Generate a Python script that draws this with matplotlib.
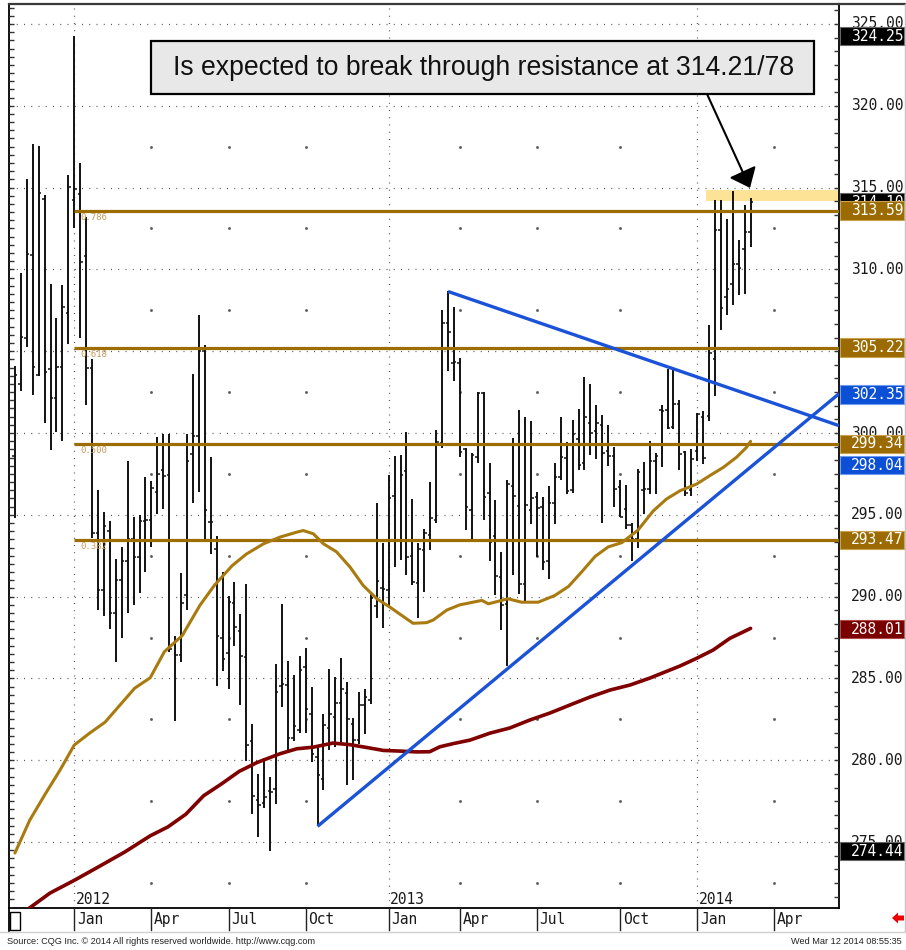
import matplotlib

matplotlib.use("Agg")
import matplotlib.pyplot as plt
import numpy as np
import pandas as pd
from matplotlib.collections import LineCollection
from matplotlib.lines import Line2D
from matplotlib.patches import Polygon, Rectangle

# weekly OHLC bars, first bar = week of 2011-10-24
FIRST_WEEK = "2011-10-24"

opens = [298.62, 302.98, 305.79, 310.88, 303.55, 314.3, 303.91, 302.16, 304.04, 307.34, 314.24, 314.6, 310.84, 303.95,
         293.88, 290.4, 294.0, 289.0, 291.0, 292.2, 293.5, 292.4, 294.6,
         294.66, 296.37, 297.74, 297.42, 287.08, 286.46, 290.11, 298.73, 299.82, 305.00, 294.55, 292.93, 287.45, 286.57,
         289.59, 287.89, 286.31, 281.17, 277.57, 277.39, 278.11, 278.22, 284.52, 284.6, 281.33, 281.83, 285.70,
         282.84, 280.2, 278.87, 282.0, 282.64, 283.48, 284.14, 282.24, 281.26, 283.4, 283.67, 289.43, 290.51, 290.41,
         296.12, 293.43, 297.65, 292.49, 290.86, 292.86, 293.78, 294.69, 299.39, 306.7, 304.29,
         304.28, 299.0, 295.29, 298.52, 302.44, 296.31, 293.69, 291.20, 289.56, 296.76, 295.53, 290.75, 295.29, 296.10,
         295.5, 292.18, 295.7, 297.3, 298.5, 296.5, 299.62, 298.15, 300.64, 300.15,
         300.5, 298.9, 298.6, 296.67, 295.35, 294.4, 293.5, 296.5, 296.6, 298.3, 301.41, 301.4, 300.35, 301.78, 298.82,
         296.51, 298.92, 301.0, 301.06, 304.53, 312.43, 308.31, 309.08, 310.35, 311.22, 312.29]
highs = [304.12, 309.80, 315.51, 317.67, 317.52, 314.55, 309.11, 307.01, 309.05, 315.77, 324.25, 316.48, 313.18, 304.52,
         296.49, 295.20, 294.61, 292.3, 293.02, 298.28, 294.86, 295.0, 297.34,
         297.09, 299.75, 299.91, 299.97, 287.58, 291.45, 299.97, 303.58, 307.19, 305.39, 298.55, 293.70, 291.51, 290.03,
         290.90, 288.93, 290.75, 282.20, 279.14, 280.13, 279.00, 285.87, 289.55, 286.05, 285.22, 286.36, 286.86,
         284.49, 280.75, 282.85, 285.6, 285.09, 286.26, 284.79, 282.57, 284.17, 284.38, 290.24, 295.71, 293.27, 297.45,
         298.57, 298.67, 300.04, 295.96, 293.27, 294.12, 296.98, 300.16, 307.51, 308.65, 307.71,
         304.59, 299.07, 298.76, 302.48, 302.48, 298.19, 295.90, 292.73, 297.13, 299.68, 301.42, 300.97, 300.71, 296.41,
         296.06, 296.76, 298.19, 300.95, 299.48, 300.81, 301.46, 303.43, 303.02, 301.73,
         301.1, 300.5, 299.16, 297.12, 296.84, 294.53, 297.80, 298.20, 299.53, 298.76, 301.71, 303.92, 303.88, 302.02,
         298.92, 299.02, 301.20, 301.37, 306.63, 314.22, 314.27, 313.10, 314.80, 311.78, 313.92, 314.39]
lows = [294.83, 302.57, 305.28, 302.32, 303.49, 300.59, 298.96, 300.04, 299.53, 305.42, 312.51, 305.83, 301.71, 293.6,
        289.2, 288.8, 288.0, 286.0, 287.5, 289.0, 289.5, 290.2, 291.5,
        293.02, 295.05, 295.38, 286.64, 282.38, 286.03, 289.20, 295.71, 296.37, 293.31, 292.58, 284.56, 285.48, 284.34,
        287.01, 283.36, 279.97, 276.74, 275.32, 277.09, 274.44, 277.35, 283.25, 280.45, 281.17, 281.68, 281.68,
        279.90, 275.96, 278.16, 280.6, 280.83, 281.1, 278.46, 278.82, 281.0, 281.62, 283.46, 288.67, 288.06, 289.43,
        291.84, 292.24, 291.33, 290.71, 288.67, 290.27, 292.86, 294.49, 299.08, 303.78, 303.16,
        298.56, 294.06, 293.34, 298.19, 294.71, 292.16, 290.07, 287.97, 285.78, 291.30, 290.17, 289.66, 294.43, 292.42,
        291.65, 291.09, 294.41, 297.13, 296.25, 296.31, 297.74, 297.74, 298.66, 298.39,
        294.5, 298.0, 295.45, 294.84, 294.12, 292.2, 293.0, 295.04, 296.27, 296.27, 297.90, 300.24, 300.24, 297.73,
        296.16, 296.16, 298.27, 298.10, 300.76, 302.29, 306.27, 307.24, 307.80, 308.41, 308.47, 311.37]
closes = [303.55, 305.89, 310.96, 304.04, 314.65, 303.71, 302.16, 304.04, 307.72, 315.02, 314.92, 310.47, 303.95, 293.87,
          290.4, 294.3, 289.0, 291.0, 292.2, 293.5, 292.4, 294.65, 294.7,
          296.63, 297.52, 297.35, 286.79, 286.46, 289.63, 298.29, 299.82, 305.00, 295.32, 294.55, 287.62, 286.20, 289.70,
          288.17, 286.36, 280.96, 277.83, 277.24, 277.74, 278.05, 284.19, 284.67, 281.39, 282.11, 285.50, 283.14,
          280.4, 279.08, 282.14, 282.8, 283.48, 284.33, 282.55, 281.26, 283.36, 283.87, 289.9, 290.98, 290.45, 296.02,
          293.37, 297.45, 292.45, 290.92, 292.90, 293.88, 294.80, 299.45, 306.73, 306.2, 304.33,
          298.87, 295.49, 298.66, 302.44, 296.06, 293.34, 291.24, 289.46, 296.88, 296.15, 290.79, 295.6, 296.0, 295.43,
          292.12, 295.74, 297.29, 298.52, 296.47, 299.95, 298.05, 300.97, 299.99, 300.64,
          298.8, 298.6, 296.57, 294.88, 294.39, 293.5, 297.6, 296.57, 298.31, 298.6, 301.37, 300.31, 301.78, 298.71,
          296.31, 298.41, 301.16, 298.47, 304.88, 312.43, 307.65, 308.82, 310.31, 310.10, 312.29, 314.10]

# moving averages, read at bar positions
gold_ma_x = [0, 2.5, 5, 7.6, 10, 12.6, 15.2, 17.7, 20.2, 22.8, 25.2, 28.2, 31.2, 33.6, 36.6, 39, 41.9, 44.7, 47.5,
             48.6, 50.3, 52, 54.2, 56.5, 58.7, 61, 63.2, 65.4, 67.1, 69.4, 70.5, 72.8, 75, 76.4, 78.7, 79.8, 81.5,
             83.1, 85.4, 88.2, 91, 93.3, 95.5, 97.8, 100, 102.3, 105, 107.6, 109.8, 112.1, 114.9, 117.1, 119.4,
             121.6, 123.3, 124]
gold_ma = [274.33, 276.34, 277.87, 279.40, 280.93, 281.66, 282.33, 283.37, 284.41, 285.04, 286.64, 287.62, 289.48,
           290.68, 291.89, 292.6, 293.23, 293.64, 293.94, 294.04, 293.84, 293.23, 292.74, 291.8, 290.68, 289.87,
           289.36, 288.8, 288.37, 288.41, 288.57, 289.18, 289.5, 289.60, 289.77, 289.56, 289.72, 289.87, 289.66,
           289.66, 290.07, 290.62, 291.50, 292.46, 293.04, 293.3, 294.06, 295.24, 295.96, 296.47, 296.88, 297.39,
           297.90, 298.51, 299.12, 299.49]
red_ma_x = [2, 5.9, 10.1, 14.3, 18.5, 22.8, 25.8, 28.8, 31.8, 34.8, 37.8, 40.8, 44.7, 47.5, 50.3, 53.6, 56.5, 59.3,
            62.1, 64.9, 67.7, 69.9, 71.6, 73.9, 76.7, 80.1, 83.4, 86.8, 90.2, 93.5, 96.9, 100.3, 103.7, 107, 112.1,
            114.9, 117.7, 120.5, 124]
red_ma = [270.85, 271.88, 272.68, 273.53, 274.39, 275.38, 275.93, 276.70, 277.83, 278.55, 279.32, 279.86, 280.40,
          280.70, 280.80, 281.05, 280.95, 280.78, 280.6, 280.56, 280.51, 280.52, 280.82, 281.02, 281.23, 281.66,
          281.97, 282.46, 282.89, 283.37, 283.86, 284.29, 284.60, 285.02, 285.76, 286.23, 286.74, 287.45, 288.06]

# fibonacci retracement of the 324.25 high -> 274.44 low
fib_levels = [313.59, 305.22, 299.34, 293.47]
fib_names = ["0.786", "0.618", "0.500", "0.382"]
FIB_START = 10

# trendlines (bar, price) -> right edge
down_x, down_y = [73, 138.9], [308.65, 300.45]
up_x, up_y = [51, 138.9], [275.96, 302.40]

band_lo, band_hi, BAND_START = 314.15, 314.85, 116.5

tag_values = [324.25, 314.10, 313.59, 305.22, 302.35, 299.34, 298.04, 293.47, 288.01, 274.44]
tag_colors = ["#000000", "#000000", "#9b6a00", "#9b6a00", "#0b4fd6", "#9b6a00", "#0b4fd6", "#9b6a00", "#7a0000",
              "#000000"]
# scale labels; 305.00 sits fully under the 305.22 tag in the original
scale_levels = [275, 280, 285, 290, 295, 300, 310, 315, 320, 325]

NOTE = "Is expected to break through resistance at 314.21/78"

W, H = 906, 950
XMIN, XMAX = -1.0, 138.9
MONO = "DejaVu Sans Mono"
GOLD = "#9e6d00"


def fx(px):
    return px / W


def fy(py):
    return 1 - py / H


fig = plt.figure(figsize=(W / 100, H / 100), dpi=100)
ax = fig.add_axes([fx(9), fy(908), (839 - 9) / W, (908 - 4) / H])
ax.set_xlim(XMIN, XMAX)
ax.set_ylim(270.97, 326.22)
ax.set_xticks([])
ax.set_yticks([])
for s in ("left", "bottom", "right"):
    ax.spines[s].set_color("black")
    ax.spines[s].set_linewidth(1.3)
ax.spines["top"].set_color("#3a3a3a")
ax.spines["top"].set_linewidth(1.6)

# quarter ticks from the weekly calendar
weeks = pd.date_range(FIRST_WEEK, periods=int(XMAX) + 1, freq="7D")
qticks, qlabels, years = [], [], []
for i in range(1, len(weeks)):
    m = weeks[i].month
    if m != weeks[i - 1].month and m in (1, 4, 7, 10):
        qticks.append(i)
        qlabels.append(weeks[i].strftime("%b"))
        if m == 1:
            years.append((i, str(weeks[i].year)))

grid = dict(color="#555555", lw=0.9, ls=(0, (0.8, 5.0)), zorder=1)
for lvl in range(275, 326, 5):
    ax.axhline(lvl, **grid)
half_levels = np.arange(272.5, 326, 5)
year_ticks = [y[0] for y in years]
for t in qticks:
    if t in year_ticks:
        ax.axvline(t, **grid)
    else:
        ax.plot([t] * len(half_levels), half_levels, ls="none", marker="s", ms=0.9, color="#555555", zorder=1)
for t, yr in years:
    ax.text(t + 0.25, 271.05, yr, ha="left", va="bottom", fontsize=10.5, family=MONO, color="#1a1a1a", zorder=5)

# inward axis ticks
yt = ax.get_yaxis_transform()
left_ticks = np.arange(271.0, 326.1, 0.5)
right_ticks = [v for v in 270 + np.arange(0, 70) * 5 / 6 if 271.2 < v < 326.1]
ax.add_collection(LineCollection([[(0, v), (4.5 / 830, v)] for v in left_ticks], colors="#333333",
                                 linewidths=1.0, transform=yt, zorder=4))
ax.add_collection(LineCollection([[(1 - 5 / 830, v), (1, v)] for v in right_ticks], colors="#333333",
                                 linewidths=1.0, transform=yt, zorder=4))

# resistance band
ax.fill_between([BAND_START, XMAX], band_lo, band_hi, color="#fde396", lw=0, zorder=2)

# OHLC bars
x = np.arange(len(closes))
ax.vlines(x, lows, highs, color="#111111", lw=1.4, zorder=3)
ax.hlines(opens, x - 0.42, x, color="#111111", lw=1.1, zorder=3)
ax.hlines(closes, x, x + 0.42, color="#111111", lw=1.1, zorder=3)

# fib lines
for lvl, name in zip(fib_levels, fib_names):
    ax.plot([FIB_START, XMAX], [lvl, lvl], color=GOLD, lw=2.3, zorder=4, solid_capstyle="butt")
    ax.text(FIB_START + 1.0, lvl - 0.12, name, ha="left", va="top", fontsize=6.5, family=MONO,
            color="#c29b5c", zorder=4)

# moving averages
ax.plot(gold_ma_x, gold_ma, color="#a97a10", lw=2.2, zorder=5, solid_capstyle="round")
ax.plot(red_ma_x, red_ma, color="#800000", lw=2.6, zorder=5, solid_capstyle="round")

# triangle trendlines
ax.plot(down_x, down_y, color="#1a52d8", lw=2.4, zorder=6, solid_capstyle="butt")
ax.plot(up_x, up_y, color="#1a52d8", lw=2.4, zorder=6, solid_capstyle="butt")

# right price scale
for lvl in scale_levels:
    ax.text((851 - 9) / 830, lvl, f"{lvl:.2f}", transform=yt, ha="left", va="center", fontsize=10.5,
            family=MONO, color="#1a1a1a", clip_on=False, zorder=7)
edges = {"#000000": "#666666", "#9b6a00": "#c9a24f", "#0b4fd6": "#6f9cf0", "#7a0000": "#b04848"}
for k, (v, c) in enumerate(zip(tag_values, tag_colors)):
    z = 8 + k * 0.1
    ax.add_patch(Rectangle((1.0012, v - 0.56), 0.0771, 1.12, transform=yt, facecolor=c, edgecolor=edges[c],
                           lw=0.8, clip_on=False, zorder=z))
    ax.text((851 - 9) / 830, v, f"{v:.2f}", transform=yt, ha="left", va="center", fontsize=10.5,
            family=MONO, color="white", clip_on=False, zorder=z + 0.05)

# comment box and arrow
ax.add_patch(Rectangle((0.171, 0.9004), 0.799, 0.059, transform=ax.transAxes, facecolor="#e8e8e8",
                       edgecolor="black", lw=1.6, zorder=9))
ax.text(0.5717, 0.9295, NOTE, transform=ax.transAxes, ha="center", va="center", fontsize=19.2,
        family="Liberation Sans", color="#111111", zorder=10)
ax.annotate("", xy=(len(closes) - 1.1, 314.98), xycoords="data", xytext=(0.841, 0.9004),
            textcoords="axes fraction",
            arrowprops=dict(arrowstyle="-|>,head_length=0.55,head_width=0.45", mutation_scale=20, lw=1.5,
                            color="black", shrinkA=0, shrinkB=0), zorder=10)

# month band under the plot
xt = ax.get_xaxis_transform()
band_bot = -(930 - 908) / 904
for t, lab in zip(qticks, qlabels):
    ax.plot([t, t], [0, band_bot], color="#222222", lw=1.0, transform=xt, clip_on=False, zorder=5)
    ax.text(t + 0.45, band_bot / 2 - 0.001, lab, transform=xt, ha="left", va="center", fontsize=10.5,
            family=MONO, color="#1a1a1a", clip_on=False)

fig.add_artist(Line2D([fx(9), fx(9)], [fy(908), fy(931)], color="black", lw=1.3))
fig.add_artist(Line2D([fx(839), fx(905)], [fy(4), fy(4)], color="#3a3a3a", lw=1.6))
fig.add_artist(Line2D([fx(905), fx(905)], [fy(4), fy(931)], color="#c4c4c4", lw=1.0))
fig.add_artist(Line2D([0, 1], [fy(931.5), fy(931.5)], color="#cfcfcf", lw=1.0))
fig.add_artist(Rectangle((fx(10), fy(930)), 10 / W, 18 / H, transform=fig.transFigure, fill=False,
                         ec="black", lw=1.0))
arrow_px = [(892, 918), (898, 912.5), (898, 915.5), (904, 915.5), (904, 920.5), (898, 920.5), (898, 923.5)]
fig.add_artist(Polygon([(fx(a), fy(b)) for a, b in arrow_px], closed=True, transform=fig.transFigure,
                       facecolor="#ee0000", edgecolor="none"))

fig.text(fx(7), fy(941), "Source: CQG Inc. \u00a9 2014 All rights reserved worldwide. http://www.cqg.com",
         ha="left", va="center", fontsize=6.6, family="Liberation Sans", color="#222222")
fig.text(fx(902), fy(941), "Wed Mar 12 2014 08:55:35", ha="right", va="center", fontsize=6.6,
         family="Liberation Sans", color="#222222")

fig.savefig("out.png", dpi=100)
plt.close(fig)
